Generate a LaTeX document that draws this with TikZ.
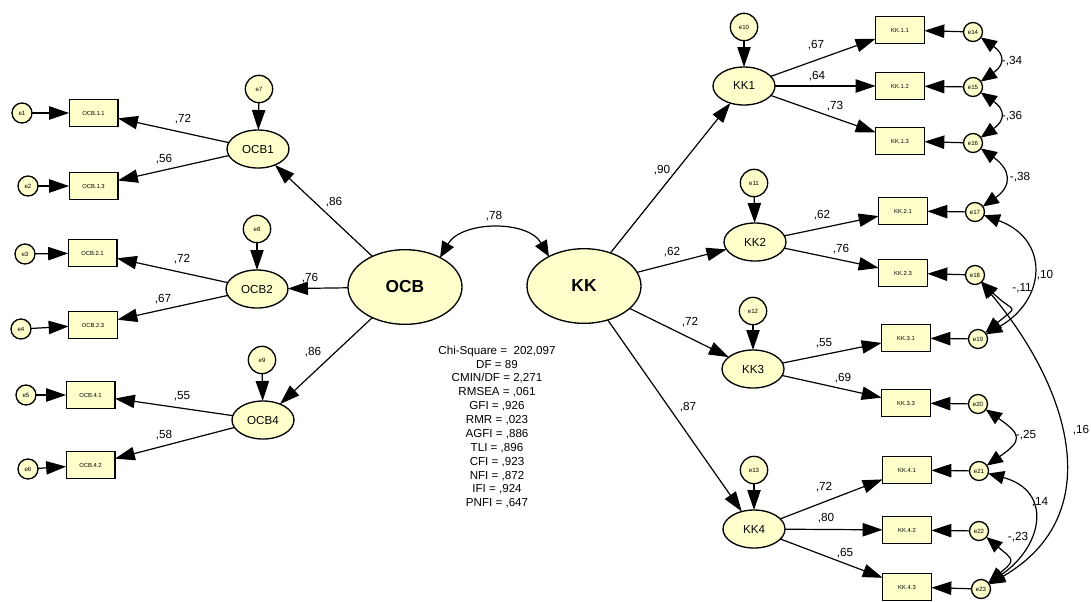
\documentclass[tikz,border=0pt]{standalone}
\usepackage{fontspec}
\setmainfont{Liberation Sans}
\usetikzlibrary{arrows.meta,shapes.geometric}

\definecolor{semfill}{HTML}{FFFFCC}

\begin{document}
\begin{tikzpicture}[x=0.75pt,y=0.75pt,line width=0.9pt,
  every node/.style={inner sep=0pt,outer sep=0pt},
  latent/.style={ellipse,draw,line width=1pt,fill=semfill,minimum width=46.5pt,minimum height=28.5pt,
    font=\fontsize{8.7}{9}\selectfont},
  factor/.style={ellipse,draw,line width=1pt,fill=semfill,minimum width=85.5pt,minimum height=56pt,
    font=\fontsize{13}{14}\selectfont\bfseries},
  item/.style={rectangle,draw,line width=1pt,fill=semfill,minimum width=36.5pt,minimum height=20pt,
    font=\fontsize{4.4}{5}\selectfont},
  err/.style={circle,draw,line width=1pt,fill=semfill,minimum size=15pt,
    font=\fontsize{4.6}{5}\selectfont},
  errsm/.style={circle,draw,line width=1pt,fill=semfill,minimum size=14.25pt,
    font=\fontsize{4.6}{5}\selectfont},
  errlat/.style={circle,draw,line width=1pt,fill=semfill,minimum size=20.5pt,
    font=\fontsize{4.6}{5}\selectfont},
  lbl/.style={font=\fontsize{8.8}{10}\selectfont},
  path/.style={-{Triangle[length=15pt,width=10pt]}},
  cov/.style={{Triangle[length=12pt,width=10pt]}-{Triangle[length=12pt,width=10pt]}},
]
\useasboundingbox (0,0) rectangle (1091,-601);

% ---------- OCB measurement part ----------
\node[factor] (OCB) at (405,-287) {OCB};
\node[latent] (OCB1) at (258,-149) {OCB1};
\node[latent] (OCB2) at (257,-289) {OCB2};
\node[latent] (OCB4) at (263,-420) {OCB4};
\node[errlat] (e7) at (259,-89) {e7};
\node[errlat] (e8) at (257,-229) {e8};
\node[errlat] (e9) at (262,-360) {e9};

\node[item] (b11) at (93.5,-113) {OCB.1.1};
\node[item] (b13) at (93.5,-186) {OCB.1.3};
\node[item] (b21) at (92.5,-253) {OCB.2.1};
\node[item] (b23) at (93,-325) {OCB.2.3};
\node[item] (b41) at (90.5,-395) {OCB.4.1};
\node[item] (b42) at (90.5,-465) {OCB.4.2};

\node[err] (e1) at (22,-113) {e1};
\node[err] (e2) at (28,-186) {e2};
\node[err] (e3) at (25,-254) {e3};
\node[err] (e4) at (21,-329) {e4};
\node[err] (e5) at (26,-395) {e5};
\node[err] (e6) at (28,-469) {e6};

\draw[path] (OCB) -- (OCB1);
\draw[path] (OCB) -- (OCB2);
\draw[path] (OCB) -- (OCB4);
\draw[path] (e7) -- (OCB1);
\draw[path] (e8) -- (OCB2);
\draw[path] (e9) -- (OCB4);
\draw[path] (OCB1) -- (b11);
\draw[path] (OCB1) -- (b13);
\draw[path] (OCB2) -- (b21);
\draw[path] (OCB2) -- (b23);
\draw[path] (OCB4) -- (b41);
\draw[path] (OCB4) -- (b42);
\draw[path] (e1) -- (b11);
\draw[path] (e2) -- (b13);
\draw[path] (e3) -- (b21);
\draw[path] (e4) -- (b23);
\draw[path] (e5) -- (b41);
\draw[path] (e6) -- (b42);

\node[lbl] (w11) at (183,-119) {,72};
\node[lbl] (w13) at (164,-159) {,56};
\node[lbl] (w21) at (182,-259) {,72};
\node[lbl] (w23) at (163,-299) {,67};
\node[lbl] (w41) at (182,-396) {,55};
\node[lbl] (w42) at (164,-435) {,58};
\node[lbl] (s1) at (334,-202) {,86};
\node[lbl] (s2) at (310,-278) {,76};
\node[lbl] (s4) at (313,-352) {,86};

% ---------- KK measurement part ----------
\node[factor] (KK) at (584,-286) {KK};
\node[latent] (KK1) at (744,-86) {KK1};
\node[latent] (KK2) at (755,-242) {KK2};
\node[latent] (KK3) at (753,-369) {KK3};
\node[latent] (KK4) at (754,-529) {KK4};
\node[errlat] (e10) at (744,-27) {e10};
\node[errlat] (e11) at (754,-183) {e11};
\node[errlat] (e12) at (753,-311) {e12};
\node[errlat] (e13) at (754,-470) {e13};

\node[item] (k11) at (900,-30) {KK.1.1};
\node[item] (k12) at (900,-86) {KK.1.2};
\node[item] (k13) at (900,-141) {KK.1.3};
\node[item] (k21) at (903,-211) {KK.2.1};
\node[item] (k23) at (903,-273) {KK.2.3};
\node[item] (k31) at (906,-338) {KK.3.1};
\node[item] (k33) at (906,-403) {KK.3.3};
\node[item] (k41) at (907,-470) {KK.4.1};
\node[item] (k42) at (907,-530) {KK.4.2};
\node[item] (k43) at (907,-587) {KK.4.3};

\node[errsm] (e14) at (973,-32) {e14};
\node[errsm] (e15) at (973,-87) {e15};
\node[errsm] (e16) at (973,-143) {e16};
\node[errsm] (e17) at (975,-212) {e17};
\node[errsm] (e18) at (975,-275) {e18};
\node[errsm] (e19) at (978,-339) {e19};
\node[errsm] (e20) at (978,-404) {e20};
\node[errsm] (e21) at (979,-471) {e21};
\node[errsm] (e22) at (979,-531) {e22};
\node[errsm] (e23) at (981,-589) {e23};

\draw[path] (KK) -- (KK1);
\draw[path] (KK) -- (KK2);
\draw[path] (KK) -- (KK3);
\draw[path] (KK) -- (KK4);
\draw[path] (e10) -- (KK1);
\draw[path] (e11) -- (KK2);
\draw[path] (e12) -- (KK3);
\draw[path] (e13) -- (KK4);
\draw[path] (KK1) -- (k11);
\draw[path] (KK1) -- (k12);
\draw[path] (KK1) -- (k13);
\draw[path] (KK2) -- (k21);
\draw[path] (KK2) -- (k23);
\draw[path] (KK3) -- (k31);
\draw[path] (KK3) -- (k33);
\draw[path] (KK4) -- (k41);
\draw[path] (KK4) -- (k42);
\draw[path] (KK4) -- (k43);
\draw[path] (e14) -- (k11);
\draw[path] (e15) -- (k12);
\draw[path] (e16) -- (k13);
\draw[path] (e17) -- (k21);
\draw[path] (e18) -- (k23);
\draw[path] (e19) -- (k31);
\draw[path] (e20) -- (k33);
\draw[path] (e21) -- (k41);
\draw[path] (e22) -- (k42);
\draw[path] (e23) -- (k43);

\node[lbl] (s5) at (662,-170) {,90};
\node[lbl] (s6) at (672,-252) {,62};
\node[lbl] (s7) at (690,-322) {,72};
\node[lbl] (s8) at (688,-407) {,87};
\node[lbl] (v11) at (816,-45) {,67};
\node[lbl] (v12) at (817,-76) {,64};
\node[lbl] (v13) at (835,-106) {,73};
\node[lbl] (v21) at (822,-215) {,62};
\node[lbl] (v23) at (841,-249) {,76};
\node[lbl] (v31) at (824,-343) {,55};
\node[lbl] (v33) at (843,-378) {,69};
\node[lbl] (v41) at (824,-487) {,72};
\node[lbl] (v42) at (826,-518) {,80};
\node[lbl] (v43) at (845,-553) {,65};

% ---------- covariances ----------
\draw[cov] (OCB.40) to[out=60,in=120,looseness=1] (KK.140);
\node[lbl] (c1) at (494,-216) {,78};

\draw[cov] (e14) to[out=-35,in=35,looseness=1.7] (e15);
\draw[cov] (e15) to[out=-35,in=35,looseness=1.7] (e16);
\draw[cov] (e16) to[out=-35,in=35,looseness=1.6] (e17);
\draw[cov] (e17) to[out=-20,in=30,looseness=1.5] (e19);
\draw[cov] (e18) to[out=-45,in=40,looseness=2.3] (e19);
\draw[cov] (e20) to[out=-35,in=35,looseness=2] (e21);
\draw[cov] (e21) to[out=-15,in=35,looseness=1.55] (e23);
\draw[cov] (e22) to[out=-40,in=40,looseness=2] (e23);
\draw[cov] (e18) to[out=-50,in=30,looseness=1.17] (e23);

\node[lbl] (r1) at (1012,-61) {-,34};
\node[lbl] (r2) at (1012,-116) {-,36};
\node[lbl] (r3) at (1020,-177) {-,38};
\node[lbl] (r4) at (1045,-275) {,10};
\node[lbl] (r5) at (1022,-288) {-,11};
\node[lbl] (r6) at (1026,-435) {-,25};
\node[lbl] (r7) at (1040,-502) {,14};
\node[lbl] (r8) at (1018,-537) {-,23};
\node[lbl] (r9) at (1081,-430) {,16};

% ---------- fit indices ----------
\node[align=center,font=\fontsize{8.7}{10.4}\selectfont] (fit) at (497,-427) {%
Chi-Square =\ \ 202,097\\
DF = 89\\
CMIN/DF = 2,271\\
RMSEA = ,061\\
GFI = ,926\\
RMR = ,023\\
AGFI = ,886\\
TLI = ,896\\
CFI = ,923\\
NFI = ,872\\
IFI = ,924\\
PNFI = ,647};
\end{tikzpicture}
\end{document}
